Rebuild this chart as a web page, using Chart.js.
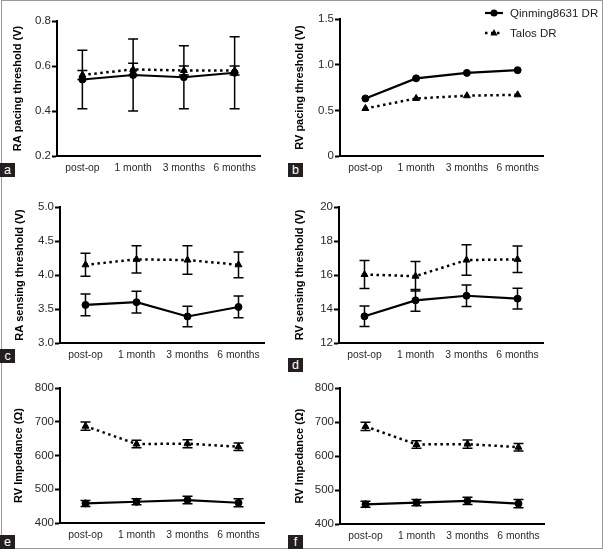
<!DOCTYPE html>
<html>
<head>
<meta charset="utf-8">
<script src="https://cdn.jsdelivr.net/npm/chart.js@4.4.1/dist/chart.umd.min.js"></script>
<style>
    html, body { margin: 0; padding: 0; background: #fff; }
    #wrap { position: relative; width: 605px; height: 549px; overflow: hidden; }
    #wrap canvas { position: absolute; left: 0; top: 0; }
    #frame { position: absolute; left: 1px; top: 0; width: 600px; height: 547px; border: 1px solid #9a9a9a; }
    .tag { position: absolute; width: 15px; height: 14px; background: #231f20; color: #fff;
           font: 12.5px "Liberation Sans", Arial, sans-serif; line-height: 14px; text-align: center; }
</style>
</head>
<body>
<div id="wrap">
    <div id="frame"></div>
    <canvas id="chartA" width="605" height="549"></canvas>
    <canvas id="chartB" width="605" height="549"></canvas>
    <canvas id="chartC" width="605" height="549"></canvas>
    <canvas id="chartD" width="605" height="549"></canvas>
    <canvas id="chartE" width="605" height="549"></canvas>
    <canvas id="chartF" width="605" height="549"></canvas>
    <div class="tag" style="left:0;top:163px">a</div>
    <div class="tag" style="left:288px;top:163px">b</div>
    <div class="tag" style="left:0;top:349px">c</div>
    <div class="tag" style="left:288px;top:358px">d</div>
    <div class="tag" style="left:0;top:535px">e</div>
    <div class="tag" style="left:288px;top:535px">f</div>
</div>
<script>
// --- data ---
const timePoints = ['post-op', '1 month', '3 months', '6 months'];
const seriesNames = ['Qinming8631 DR', 'Talos DR'];

// a: RA pacing threshold
const raPaceTicks = ['0.2', '0.4', '0.6', '0.8'];
const raPaceQin = [0.54, 0.56, 0.55, 0.57];
const raPaceQinSd = [0.13, 0.16, 0.14, 0.16];
const raPaceTalos = [0.56, 0.585, 0.58, 0.58];
const raPaceTalosSd = [0.02, 0.027, 0.02, 0.02];

// b: RV pacing threshold (no visible error bars)
const rvPaceTicks = ['0', '0.5', '1.0', '1.5'];
const rvPaceQin = [0.63, 0.85, 0.91, 0.94];
const rvPaceTalos = [0.52, 0.63, 0.66, 0.67];

// c: RA sensing threshold
const raSenseTicks = ['3.0', '3.5', '4.0', '4.5', '5.0'];
const raSenseQin = [3.56, 3.60, 3.39, 3.53];
const raSenseQinSd = [0.16, 0.16, 0.15, 0.16];
const raSenseTalos = [4.15, 4.23, 4.22, 4.15];
const raSenseTalosSd = [0.17, 0.20, 0.21, 0.19];

// d: RV sensing threshold
const rvSenseTicks = ['12', '14', '16', '18', '20'];
const rvSenseQin = [13.57, 14.51, 14.78, 14.61];
const rvSenseQinSd = [0.60, 0.64, 0.63, 0.61];
const rvSenseTalos = [16.03, 15.93, 16.88, 16.92];
const rvSenseTalosSd = [0.82, 0.87, 0.90, 0.78];

// e / f: RV impedance
const impTicks = ['400', '500', '600', '700', '800'];
const impQin = [458, 463, 468, 460];
const impQinSd = [9, 9, 11, 12];
const impTalos = [687, 634, 635, 626];
const impTalosSd = [12, 11, 12, 11];

Chart.defaults.font.family = '"Liberation Sans", Arial, sans-serif';

// vertical SD bars with caps
const errorBars = {
    id: 'errorBars',
    afterDatasetsDraw(chart) {
        const ctx = chart.ctx;
        const y = chart.scales.y;
        chart.data.datasets.forEach((ds, i) => {
            if (!ds.sd) return;
            const meta = chart.getDatasetMeta(i);
            ctx.save();
            ctx.strokeStyle = '#000';
            ctx.lineWidth = 1.5;
            meta.data.forEach((pt, j) => {
                const hi = y.getPixelForValue(ds.data[j] + ds.sd[j]);
                const lo = y.getPixelForValue(ds.data[j] - ds.sd[j]);
                ctx.beginPath();
                ctx.moveTo(pt.x, hi); ctx.lineTo(pt.x, lo);
                ctx.moveTo(pt.x - 5, hi); ctx.lineTo(pt.x + 5, hi);
                ctx.moveTo(pt.x - 5, lo); ctx.lineTo(pt.x + 5, lo);
                ctx.stroke();
            });
            ctx.restore();
        });
    }
};

// legend like the Prism one: line sample with marker, then name
const sampleLegend = {
    id: 'sampleLegend',
    afterDraw(chart, args, opts) {
        if (!opts.show) return;
        const ctx = chart.ctx;
        chart.data.datasets.forEach((ds, i) => {
            const y = opts.y + i * opts.gap;
            const cx = opts.x + 9;
            ctx.save();
            ctx.strokeStyle = '#000';
            ctx.fillStyle = '#000';
            ctx.lineWidth = ds.borderWidth;
            ctx.setLineDash(ds.borderDash || []);
            ctx.beginPath();
            ctx.moveTo(opts.x, y); ctx.lineTo(opts.x + 18, y);
            ctx.stroke();
            ctx.setLineDash([]);
            ctx.beginPath();
            if (ds.pointStyle === 'triangle') {
                const r = ds.pointRadius;
                ctx.moveTo(cx, y - r); ctx.lineTo(cx + r * 0.9, y + r * 0.6); ctx.lineTo(cx - r * 0.9, y + r * 0.6);
                ctx.closePath();
            } else {
                ctx.arc(cx, y, ds.pointRadius, 0, Math.PI * 2);
            }
            ctx.fill();
            ctx.font = '11.5px "Liberation Sans", Arial, sans-serif';
            ctx.fillStyle = '#222';
            ctx.textBaseline = 'middle';
            ctx.fillText(ds.label, opts.x + 25, y + 1);
            ctx.restore();
        });
    }
};

function makePanel(id, box, title, ticks, qin, qinSd, talos, talosSd, legend) {
    const tickVals = ticks.map(Number);
    const padLeft = box.titleX - 6.6;
    new Chart(document.getElementById(id), {
        type: 'line',
        data: {
            labels: timePoints,
            datasets: [{
                label: seriesNames[0],
                data: qin,
                sd: qinSd,
                borderColor: '#000',
                backgroundColor: '#000',
                borderWidth: 2.2,
                pointStyle: 'circle',
                pointRadius: 3.5,
                pointBorderWidth: 1,
                pointBackgroundColor: '#000',
                pointBorderColor: '#000',
                tension: 0,
                fill: false
            }, {
                label: seriesNames[1],
                data: talos,
                sd: talosSd,
                borderColor: '#000',
                backgroundColor: '#000',
                borderWidth: 2.5,
                borderDash: [2.5, 3.5],
                pointStyle: 'triangle',
                pointRadius: 4,
                pointBorderWidth: 1,
                pointBackgroundColor: '#000',
                pointBorderColor: '#000',
                tension: 0,
                fill: false
            }]
        },
        options: {
            responsive: false,
            animation: false,
            events: [],
            layout: {
                padding: { left: padLeft, top: box.t, right: 605 - box.r, bottom: 549 - box.b - 22 }
            },
            scales: {
                x: {
                    type: 'category',
                    offset: true,
                    afterFit: s => { s.height = 22; },
                    grid: { display: false, drawTicks: false },
                    border: { display: true, color: '#000', width: 2 },
                    ticks: { padding: 6, color: '#2a2a2a', font: { size: 10.3 }, maxRotation: 0, autoSkip: false }
                },
                y: {
                    min: tickVals[0],
                    max: tickVals[tickVals.length - 1],
                    afterFit: s => { s.width = box.l - padLeft; },
                    afterBuildTicks: s => { s.ticks = tickVals.map(v => ({ value: v })); },
                    grid: { display: true, drawOnChartArea: false, drawTicks: true, tickLength: 5, tickColor: '#000', tickWidth: 2 },
                    border: { display: true, color: '#000', width: 2 },
                    ticks: { padding: 1, color: '#2a2a2a', font: { size: 11.5 }, callback: (v, i) => ticks[i] },
                    title: { display: true, text: title, color: '#000', padding: 0, font: { size: 11, weight: 'bold' } }
                }
            },
            plugins: {
                legend: { display: false },
                tooltip: { enabled: false },
                sampleLegend: legend || { show: false }
            }
        },
        plugins: [errorBars, sampleLegend]
    });
}

makePanel('chartA', { l: 57, t: 21, r: 260, b: 156, titleX: 18 }, 'RA pacing threshold (V)',
    raPaceTicks, raPaceQin, raPaceQinSd, raPaceTalos, raPaceTalosSd);
makePanel('chartB', { l: 340, t: 19, r: 543, b: 156, titleX: 300 }, 'RV pacing threshold (V)',
    rvPaceTicks, rvPaceQin, null, rvPaceTalos, null, { show: true, x: 485, y: 13, gap: 20 });
makePanel('chartC', { l: 60, t: 207, r: 264, b: 343, titleX: 20 }, 'RA sensing threshold (V)',
    raSenseTicks, raSenseQin, raSenseQinSd, raSenseTalos, raSenseTalosSd);
makePanel('chartD', { l: 339, t: 207, r: 543, b: 343, titleX: 300 }, 'RV sensing threshold (V)',
    rvSenseTicks, rvSenseQin, rvSenseQinSd, rvSenseTalos, rvSenseTalosSd);
makePanel('chartE', { l: 60, t: 388, r: 264, b: 523, titleX: 19 }, 'RV Impedance (\u03A9)',
    impTicks, impQin, impQinSd, impTalos, impTalosSd);
makePanel('chartF', { l: 340, t: 388, r: 544, b: 524, titleX: 300 }, 'RV Impedance (\u03A9)',
    impTicks, impQin, impQinSd, impTalos, impTalosSd);
</script>
</body>
</html>
